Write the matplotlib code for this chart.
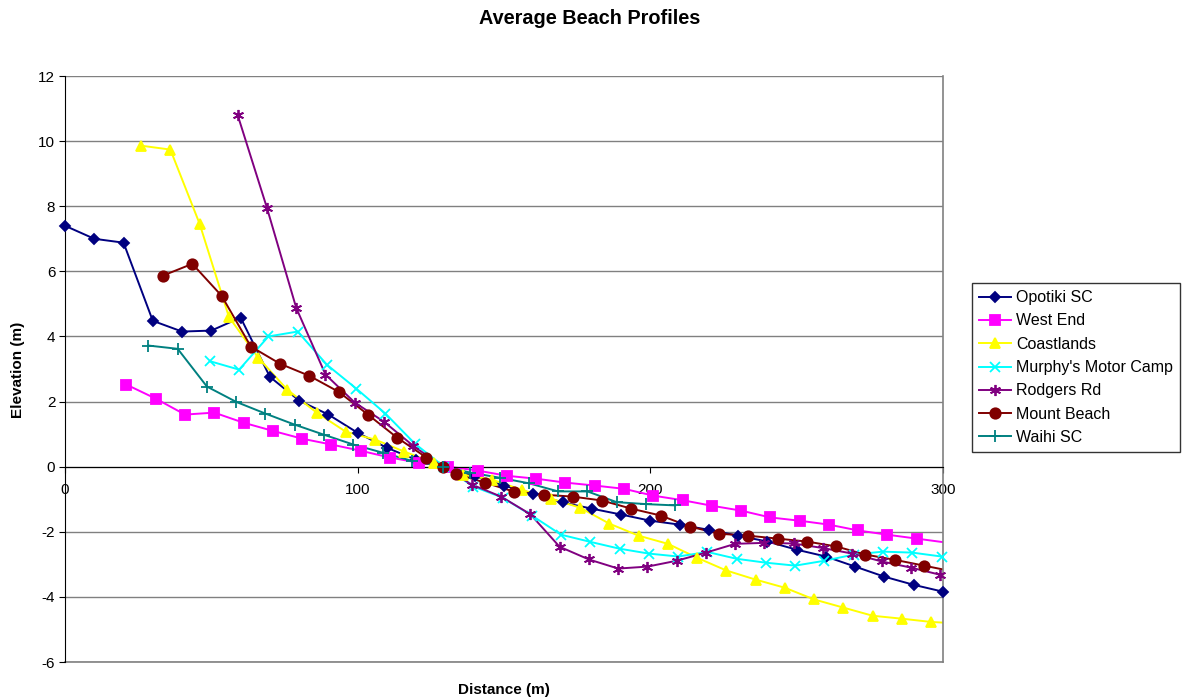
import matplotlib
matplotlib.use("Agg")
import matplotlib.pyplot as plt
from matplotlib.lines import Line2D

plt.rcParams["font.family"] = ["Liberation Sans", "DejaVu Sans"]
plt.rcParams["axes.unicode_minus"] = False

# Opotiki SC
opotiki_x = [0, 10, 20, 30, 40, 50, 60, 70, 80, 90, 100, 110, 120, 130, 140, 150,
             160, 170, 180, 190, 200, 210, 220, 230, 240, 250, 260, 270, 280, 290, 300]
opotiki_y = [7.4, 7.0, 6.88, 4.48, 4.15, 4.18, 4.58, 2.76, 2.03, 1.6, 1.04, 0.58, 0.21, 0.0,
             -0.3, -0.58, -0.83, -1.1, -1.29, -1.47, -1.66, -1.78, -1.94, -2.12, -2.3,
             -2.55, -2.76, -3.07, -3.38, -3.63, -3.84]

# West End
west_x = [21, 31, 41, 51, 61, 71, 81, 91, 101, 111, 121, 131, 141, 151, 161, 171, 181,
          191, 201, 211, 221, 231, 241, 251, 261, 271, 281, 291, 311]
west_y = [2.52, 2.09, 1.6, 1.66, 1.35, 1.1, 0.86, 0.68, 0.49, 0.28, 0.12, 0.0, -0.12,
          -0.28, -0.37, -0.49, -0.58, -0.68, -0.89, -1.03, -1.2, -1.35, -1.56, -1.66,
          -1.78, -1.96, -2.09, -2.21, -2.45]

# Coastlands
coast_x = [26, 36, 46, 56, 66, 76, 86, 96, 106, 116, 126, 136, 146, 156, 166, 176, 186,
           196, 206, 216, 226, 236, 246, 256, 266, 276, 286, 296, 306]
coast_y = [9.86, 9.74, 7.46, 4.6, 3.35, 2.36, 1.66, 1.07, 0.83, 0.46, 0.12, -0.25, -0.4,
           -0.71, -0.98, -1.26, -1.75, -2.12, -2.37, -2.8, -3.19, -3.47, -3.72, -4.08,
           -4.33, -4.58, -4.67, -4.77, -4.82]

# Murphy's Motor Camp
murphy_x = [49.5, 59.5, 69.5, 79.5, 89.5, 99.5, 109.5, 119.5, 129.5, 139.5, 149.5, 159.5,
            169.5, 179.5, 189.5, 199.5, 209.5, 219.5, 229.5, 239.5, 249.5, 259.5, 269.5,
            279.5, 289.5, 299.5, 309.5]
murphy_y = [3.24, 2.98, 4.0, 4.15, 3.13, 2.4, 1.63, 0.71, 0.0, -0.61, -0.95, -1.5, -2.09,
            -2.31, -2.52, -2.67, -2.76, -2.62, -2.83, -2.95, -3.04, -2.89, -2.7, -2.61,
            -2.64, -2.76, -2.85]

# Rodgers Rd
rodgers_x = [59, 69, 79, 89, 99, 109, 119, 129, 139, 149, 159, 169, 179, 189, 199, 209,
             219, 229, 239, 249, 259, 269, 279, 289, 299, 309]
rodgers_y = [10.8, 7.95, 4.88, 2.83, 1.97, 1.38, 0.64, 0.0, -0.55, -0.92, -1.46, -2.46,
             -2.85, -3.13, -3.07, -2.89, -2.64, -2.37, -2.34, -2.36, -2.5, -2.67, -2.91,
             -3.1, -3.32, -3.5]

# Mount Beach
mount_x = [33.5, 43.5, 53.5, 63.5, 73.5, 83.5, 93.5, 103.5, 113.5, 123.5, 129, 133.5,
           143.5, 153.5, 163.5, 173.5, 183.5, 193.5, 203.5, 213.5, 223.5, 233.5, 243.5,
           253.5, 263.5, 273.5, 283.5, 293.5, 303.5]
mount_y = [5.87, 6.23, 5.25, 3.69, 3.16, 2.79, 2.3, 1.6, 0.89, 0.28, 0.0, -0.22, -0.49,
           -0.77, -0.86, -0.92, -1.04, -1.29, -1.5, -1.84, -2.06, -2.12, -2.21, -2.3,
           -2.45, -2.7, -2.86, -3.04, -3.22]

# Waihi SC
waihi_x = [28.5, 38.5, 48.5, 58.5, 68.5, 78.5, 88.5, 98.5, 108.5, 118.5, 129, 138.5,
           148.5, 158.5, 168.5, 178.5, 188.5, 198.5, 208.5]
waihi_y = [3.72, 3.62, 2.46, 1.99, 1.63, 1.29, 0.98, 0.68, 0.43, 0.18, 0.0, -0.18, -0.34,
           -0.51, -0.76, -0.76, -1.09, -1.15, -1.19]

series = [
    ("Opotiki SC", opotiki_x, opotiki_y, "#000080", "D", 5.5),
    ("West End", west_x, west_y, "#FF00FF", "s", 7),
    ("Coastlands", coast_x, coast_y, "#FFFF00", "^", 7.5),
    ("Murphy's Motor Camp", murphy_x, murphy_y, "#00FFFF", "x", 7),
    ("Rodgers Rd", rodgers_x, rodgers_y, "#800080", (6, 2, 0), 8),
    ("Mount Beach", mount_x, mount_y, "#800000", "o", 7.5),
    ("Waihi SC", waihi_x, waihi_y, "#008080", "+", 8),
]

fig = plt.figure(figsize=(11.87, 6.99), dpi=100)
ax = fig.add_axes([65 / 1187, 1 - 662 / 699, (943 - 65) / 1187, (662 - 76) / 699])

XMAX = 300
handles = []
for name, xs, ys, col, mk, ms in series:
    style = dict(color=col, marker=mk, markersize=ms, markeredgecolor=col,
                 markerfacecolor=col, markeredgewidth=1.3)
    # line is clipped to the plot area, markers are not
    ax.plot(xs, ys, color=col, lw=1.4)
    keep = [i for i, x in enumerate(xs) if x <= XMAX]
    ax.plot([xs[i] for i in keep], [ys[i] for i in keep], ls="none",
            clip_on=False, zorder=3, **style)
    handles.append(Line2D([], [], lw=1.4, label=name, **style))

ax.set_xlim(0, XMAX)
ax.set_ylim(-6, 12)
ax.set_yticks(range(-6, 13, 2))
ax.set_xticks([0, 100, 200, 300])
ax.set_axisbelow(True)
ax.grid(axis="y", color="#808080", lw=1.0)
ax.grid(axis="x", visible=False)
ax.axhline(-6, color="#808080", lw=1.2, clip_on=False, zorder=0.5)

ax.spines["bottom"].set_position(("data", 0))
ax.spines["bottom"].set_color("black")
ax.spines["top"].set_visible(False)
ax.spines["right"].set_color("#808080")
ax.spines["right"].set_linewidth(1.2)
ax.spines["left"].set_color("black")

ax.tick_params(axis="y", length=4, pad=3, labelsize=11, color="black")
ax.tick_params(axis="x", length=4, pad=8, labelsize=11, color="black")

fig.text(0.497, 1 - 19 / 699, "Average Beach Profiles", ha="center", va="center",
         fontsize=14.3, fontweight="bold")
fig.text(504 / 1187, 1 - 690 / 699, "Distance (m)", ha="center", va="center",
         fontsize=11, fontweight="bold")
fig.text(18 / 1187, 1 - 370 / 699, "Elevation (m)", ha="center", va="center",
         fontsize=11, fontweight="bold", rotation=90)

leg = fig.legend(handles=handles, loc="upper left",
                 bbox_to_anchor=(972 / 1187, 1 - 283 / 699),
                 fontsize=11.5, frameon=True, fancybox=False, handlelength=2.0,
                 borderpad=0.45, labelspacing=0.52, handletextpad=0.3,
                 borderaxespad=0)
leg.get_frame().set_edgecolor("black")
leg.get_frame().set_linewidth(1.0)

fig.savefig("out.png", dpi=100)
